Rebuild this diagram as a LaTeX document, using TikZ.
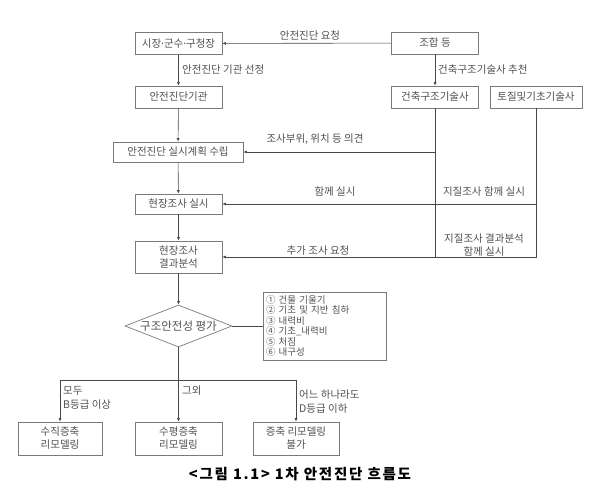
\documentclass[tikz,border=0pt]{standalone}
\usepackage{fontspec}
\setmainfont{Noto Sans CJK KR}
\newfontfamily\latinfont{Noto Sans}
\usetikzlibrary{arrows.meta,shapes.geometric}
\definecolor{txt}{HTML}{505050}
\definecolor{lncol}{HTML}{7A7A7A}
\definecolor{arcol}{HTML}{484848}
\newcommand{\mdot}{{\latinfont ·}}
\begin{document}
\begin{tikzpicture}[x=1pt,y=-1pt,
  box/.style={draw=lncol, line width=0.7pt, minimum width=87pt, minimum height=22pt, inner sep=1pt, align=center, text=txt, font=\fontsize{10.5}{13}\selectfont},
  lbl/.style={text=txt, font=\fontsize{10.5}{14}\selectfont, inner sep=1pt},
  arr/.style={draw=arcol, line width=0.6pt, -{Latex[length=3.5pt,width=3pt]}},
  wire/.style={draw=arcol, line width=0.6pt}
]
\useasboundingbox (0,0) rectangle (597,498);
\node[box] (si) at (178.5,43.5) {시장\mdot 군수\mdot 구청장};
\node[box] (jo) at (435,43) {조합 등};
\node[box] (gi) at (178.5,97) {안전진단기관};
\node[box] (gs) at (435,97) {건축구조기술사};
\node[box, minimum width=92pt] (to) at (536,97) {토질및기초기술사};
\node[box, minimum width=130pt, minimum height=20pt] (plan) at (178,152) {안전진단 실시계획 수립};
\node[box, minimum height=20pt] (site) at (178.5,204) {현장조사 실시};
\node[box, minimum height=32pt] (res) at (178.5,257) {현장조사\\결과분석};
\node[diamond, draw=lncol, line width=0.7pt, aspect=2.5, minimum width=107pt, minimum height=42pt, inner sep=0pt, text=txt, font=\fontsize{11.5}{13}\selectfont] (dia) at (178.5,326) {구조안전성 평가};
\node[draw=lncol, line width=0.7pt, minimum width=123pt, minimum height=68pt, text width=117pt, align=left, inner sep=3pt, text=txt, font=\fontsize{9.5}{10.5}\selectfont] (lst) at (324.5,326) {① 건물 기울기\\② 기초 및 지반 침하\\③ 내력비\\④ 기초\_내력비\\⑤ 처짐\\⑥ 내구성};
\node[box, minimum width=84pt, minimum height=33pt] (a1) at (60,438.5) {수직증축\\리모델링};
\node[box, minimum width=87pt, minimum height=33pt] (a2) at (178.5,438.5) {수평증축\\리모델링};
\node[box, minimum width=86pt, minimum height=33pt] (a3) at (296,438.5) {증축 리모델링\\불가};

\draw[arr] (jo) -- (si);
\node[lbl] (l1) at (310,36) {안전진단 요청};
\draw[arr] (si) -- (gi);
\node[lbl, anchor=west] (l2) at (181,70) {안전진단 기관 선정};
\draw[arr] (jo) -- (gs);
\node[lbl, anchor=west] (l3) at (437,70) {건축구조기술사 추천};
\draw[arr] (gi) -- (plan);
\draw[arr] (plan) -- (site);
\draw[arr] (site) -- (res);
\draw[arr] (res) -- (dia);

\coordinate (c3) at (gs.south |- res.east);
\coordinate (c4) at (to.south |- res.east);
\draw[wire] (gs.south) -- (c3);
\draw[arr] (gs.south |- plan.east) -- (plan.east);
\node[lbl] (l4) at (315,139) {조사부위, 위치 등 의견};
\draw[arr] (to.south |- site.east) -- (site.east);
\draw[wire] (to.south) -- (c4) -- (c3);
\draw[arr] (c3) -- (res.east);
\node[lbl] (l5) at (335,192) {함께 실시};
\node[lbl] (l6) at (484,192) {지질조사 함께 실시};
\node[lbl, align=center, font=\fontsize{10.5}{13}\selectfont] (l7) at (484,245) {지질조사 결과분석\\함께 실시};
\node[lbl] (l8) at (318,251) {추가 조사 요청};

\draw[wire] (dia.east) -- (lst.west);
\coordinate (h) at (178.5,380);
\coordinate (hl) at (a1.north |- h);
\coordinate (hr) at (a3.north |- h);
\draw[wire] (dia.south) -- (h);
\draw[wire] (hl) -- (hr);
\draw[arr] (h) -- (a2);
\draw[arr] (hl) -- (a1);
\draw[arr] (hr) -- (a3);
\node[lbl, anchor=north west, align=left] (l9) at (62,385) {모두\\B등급 이상};
\node[lbl, anchor=north west] (l10) at (181,385) {그외};
\node[lbl, anchor=north west, align=left] (l11) at (298,389) {어느 하나라도\\D등급 이하};
\node[font=\bfseries\fontsize{14.5}{16}\selectfont\addfontfeature{LetterSpace=12}] (cap) at (300,474) {<그림 1.1> 1차 안전진단 흐름도};
\end{tikzpicture}
\end{document}
